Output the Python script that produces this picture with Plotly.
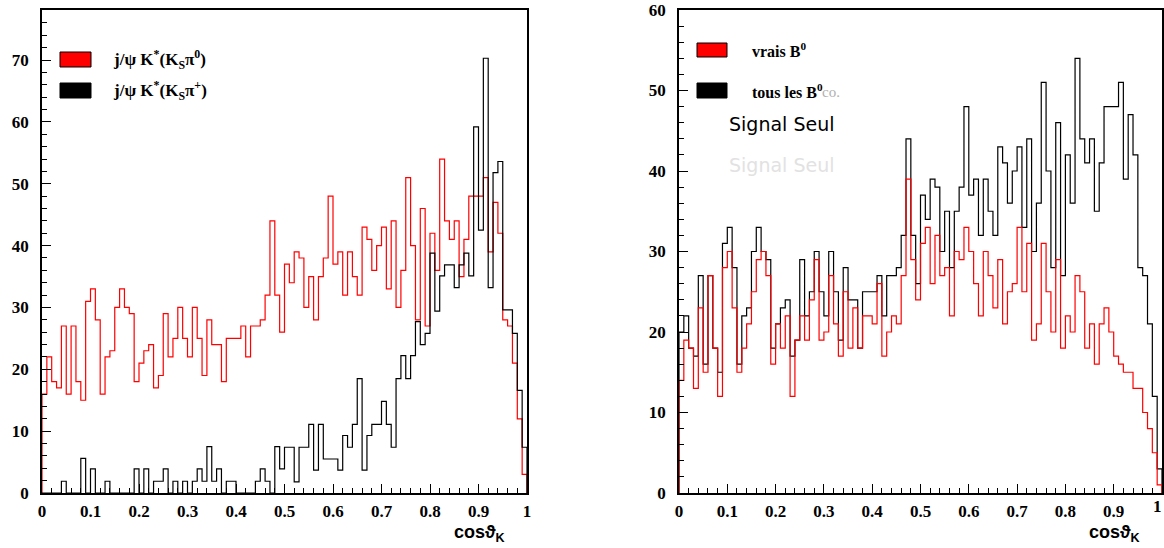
import numpy as np
import plotly.graph_objects as go

# ---------------- data (100 bins of cos(theta_K) in [0,1]) ----------------
left_red = [16, 22, 18, 17, 27, 16, 27, 18, 15, 31,
            33, 28, 16, 22, 23, 30, 33, 30, 29, 18,
            21, 23, 24, 17, 19, 29, 22, 25, 30, 25,
            22, 30, 25, 19, 28, 24, 24, 18, 25, 25,
            25, 27, 22, 27, 27, 28, 32, 44, 32, 26,
            37, 34, 39, 38, 30, 35, 28, 35, 38, 48,
            37, 39, 32, 39, 35, 32, 43, 41, 36, 40,
            43, 33, 44, 30, 36, 51, 40, 28, 46, 27,
            42, 36, 54, 44, 41, 44, 35, 41, 48, 48,
            48, 51, 39, 47, 42, 28, 27, 21, 12, 3]

left_black = [0, 0, 0, 0, 1.9, 0, 0, 0, 5.6, 0,
              3.9, 0, 0, 1.9, 0, 0, 0, 0, 0, 3.9,
              0, 3.9, 0, 1.9, 1.9, 3.9, 0, 1.9, 0, 1.9,
              0, 1.9, 3.9, 1.9, 7.5, 1.9, 3.9, 0, 1.9, 1.9,
              0, 0, 0, 0, 1.9, 3.9, 1.9, 0, 7.5, 3.9,
              7.4, 7.4, 1.8, 7.4, 7.4, 11.1, 3.7, 11.1, 5.5, 5.5,
              5.5, 3.7, 9.3, 7.4, 11.1, 18.5, 3.7, 9.3, 11.1, 11.1,
              14.8, 11.1, 7.4, 18.5, 22.2, 18.5, 22.2, 27.7, 24.0, 25.8,
              38.8, 29.4, 35.1, 36.9, 36.9, 33.2, 36.9, 38.8, 35.1, 59.2,
              42.5, 70.3, 33.2, 51.8, 53.6, 29.6, 29.6, 25.8, 16.6, 7.4]

right_black = [20, 22, 18, 17, 27, 16, 27, 18, 15, 31,
               33, 28, 16, 22, 23, 30, 33, 30, 29, 18,
               21, 23, 24, 17, 19, 29, 22, 25, 30, 25,
               22, 30, 25, 19, 28, 24, 24, 18, 25, 25,
               25, 27, 22, 27, 27, 28, 32, 44, 32, 26,
               37, 34, 39, 38, 30, 35, 28, 35, 38, 48,
               37, 39, 32, 39, 35, 32, 43, 41, 36, 40,
               43, 33, 44, 30, 36, 51, 40, 28, 46, 27,
               42, 36, 54, 44, 41, 44, 35, 41, 48, 48,
               48, 51, 39, 47, 42, 28, 27, 21, 12, 3]

right_red = [14, 19, 18, 13, 23, 15, 27, 18, 12, 28,
             30, 23, 15, 18, 21, 25, 29, 30, 27, 16,
             21, 18, 22, 12, 19, 22, 19, 24, 29, 19,
             20, 27, 21, 17, 25, 18, 23, 18, 22, 22,
             21, 26, 17, 20, 22, 21, 27, 39, 29, 24,
             31, 33, 26, 32, 27, 28, 22, 30, 29, 33,
             30, 26, 22, 30, 27, 23, 29, 21, 25, 26,
             33, 25, 31, 19, 21, 31, 25, 20, 29, 18,
             22, 20, 27, 25, 18, 21, 16, 21, 23, 20,
             17, 16, 15, 15, 13, 13, 10, 8, 5, 1]

x_ticks = [0, 0.1, 0.2, 0.3, 0.4, 0.5, 0.6, 0.7, 0.8, 0.9, 1]
x_tick_text = ["0", "0.1", "0.2", "0.3", "0.4", "0.5", "0.6", "0.7", "0.8", "0.9", "1"]

left_legend = ["j/ψ K<sup>*</sup>(K<sub>S</sub>π<sup>0</sup>)",
               "j/ψ K<sup>*</sup>(K<sub>S</sub>π<sup>+</sup>)"]
right_legend = ["vrais B<sup>0</sup>", "tous les B<sup>0</sup>"]

W, H = 1164, 548


def step_xy(vals):
    vals = np.asarray(vals, dtype=float)
    edges = np.linspace(0.0, 1.0, len(vals) + 1)
    x = np.concatenate([[0.0], edges[:-1], [1.0, 1.0]])
    y = np.concatenate([[0.0], vals, [vals[-1], 0.0]])
    return x, y


def px(x):
    return x / W


def py(y):
    return 1 - y / H


fig = go.Figure()

for vals, color, xa, ya in [(left_red, "#ff0000", "x", "y"),
                            (left_black, "#000000", "x", "y"),
                            (right_black, "#000000", "x2", "y2"),
                            (right_red, "#ff0000", "x2", "y2")]:
    xs, ys = step_xy(vals)
    fig.add_trace(go.Scatter(x=xs, y=ys, mode="lines", line_shape="hv",
                             line=dict(color=color, width=1.2),
                             xaxis=xa, yaxis=ya, showlegend=False,
                             hoverinfo="skip"))

tickfont = dict(family="Liberation Serif", size=17, color="black", weight="bold")

common_x = dict(range=[0, 1], tickvals=x_ticks, ticktext=x_tick_text,
                ticks="inside", ticklen=9, tickwidth=1, tickcolor="black",
                minor=dict(ticks="inside", ticklen=5, tickwidth=1, tickcolor="black",
                           dtick=0.02, tick0=0, showgrid=False),
                showline=True, linecolor="black", linewidth=1.5, mirror=True,
                showgrid=False, zeroline=False, tickfont=tickfont,
                ticklabelstandoff=2, automargin=False)

common_y = dict(ticks="inside", ticklen=9, tickwidth=1, tickcolor="black",
                dtick=10, tick0=0,
                minor=dict(ticks="inside", ticklen=5, tickwidth=1, tickcolor="black",
                           dtick=2, tick0=0, showgrid=False),
                showline=True, linecolor="black", linewidth=1.5, mirror=True,
                showgrid=False, zeroline=False, tickfont=tickfont,
                ticklabelstandoff=8, automargin=False)

ydom = [py(493), py(10)]
fig.update_layout(
    width=W, height=H,
    margin=dict(l=0, r=0, t=0, b=0, pad=0),
    paper_bgcolor="white", plot_bgcolor="white",
    xaxis=dict(domain=[px(42), px(527)], anchor="y", **common_x),
    yaxis=dict(domain=ydom, anchor="x", range=[0, 78.1], **common_y),
    xaxis2=dict(domain=[px(679), px(1162)], anchor="y2", **common_x),
    yaxis2=dict(domain=ydom, anchor="x2", range=[0, 60], **common_y),
)

shapes = []
annotations = []

# right panel's last tick label sits on the page edge; draw it explicitly
annotations.append(dict(xref="paper", yref="paper", x=1.0, y=py(506),
                        xanchor="right", yanchor="middle", showarrow=False,
                        text="<b>" + x_tick_text[-1] + "</b>",
                        font=dict(family="Liberation Serif", size=17, color="black")))

# axis titles
for x0 in (453, 1088):
    annotations.append(dict(xref="paper", yref="paper", x=px(x0), y=py(533),
                            xanchor="left", yanchor="middle", showarrow=False,
                            text="<b>cosϑ<sub>K</sub></b>", borderpad=0,
                            font=dict(family="Liberation Sans", size=18, color="black")))

legend_font = dict(family="Liberation Serif", size=17, color="black")

# left legend
for (y0, y1), fill, label in [((52, 67), "#ff0000", left_legend[0]),
                              ((83, 98), "#000000", left_legend[1])]:
    shapes.append(dict(type="rect", xref="paper", yref="paper",
                       x0=px(60), x1=px(91), y0=py(y1), y1=py(y0),
                       fillcolor=fill, line=dict(color="black", width=1)))
    annotations.append(dict(xref="paper", yref="paper", x=px(111), y=py((y0 + y1) / 2),
                            xanchor="left", yanchor="middle", showarrow=False,
                            text="<b>" + label + "</b>", font=legend_font))

# right legend
for (y0, y1), fill, label in [((43, 57), "#ff0000", right_legend[0]),
                              ((83, 98), "#000000", right_legend[1])]:
    shapes.append(dict(type="rect", xref="paper", yref="paper",
                       x0=px(697), x1=px(727), y0=py(y1), y1=py(y0),
                       fillcolor=fill, line=dict(color="black", width=1)))
    annotations.append(dict(xref="paper", yref="paper", x=px(750), y=py((y0 + y1) / 2),
                            xanchor="left", yanchor="middle", showarrow=False,
                            text="<b>" + label + "</b>", font=dict(family="Liberation Serif", size=16, color="black")))

annotations.append(dict(xref="paper", yref="paper", x=px(820), y=py(92),
                        xanchor="left", yanchor="middle", showarrow=False,
                        text="co.", font=dict(family="Liberation Serif", size=15, color="#b0b0b0")))

annotations.append(dict(xref="paper", yref="paper", x=px(727), y=py(124),
                        xanchor="left", yanchor="middle", showarrow=False,
                        text="Signal Seul", font=dict(family="DejaVu Sans", size=19, color="black")))
annotations.append(dict(xref="paper", yref="paper", x=px(727), y=py(165),
                        xanchor="left", yanchor="middle", showarrow=False,
                        text="Signal Seul", font=dict(family="DejaVu Sans", size=19, color="#e2e2e2")))

fig.update_layout(shapes=shapes, annotations=annotations)

fig.write_html("out.html", config={"displayModeBar": False},
               post_script="document.body.style.margin='0';document.body.style.padding='0';document.body.style.overflow='hidden';")
